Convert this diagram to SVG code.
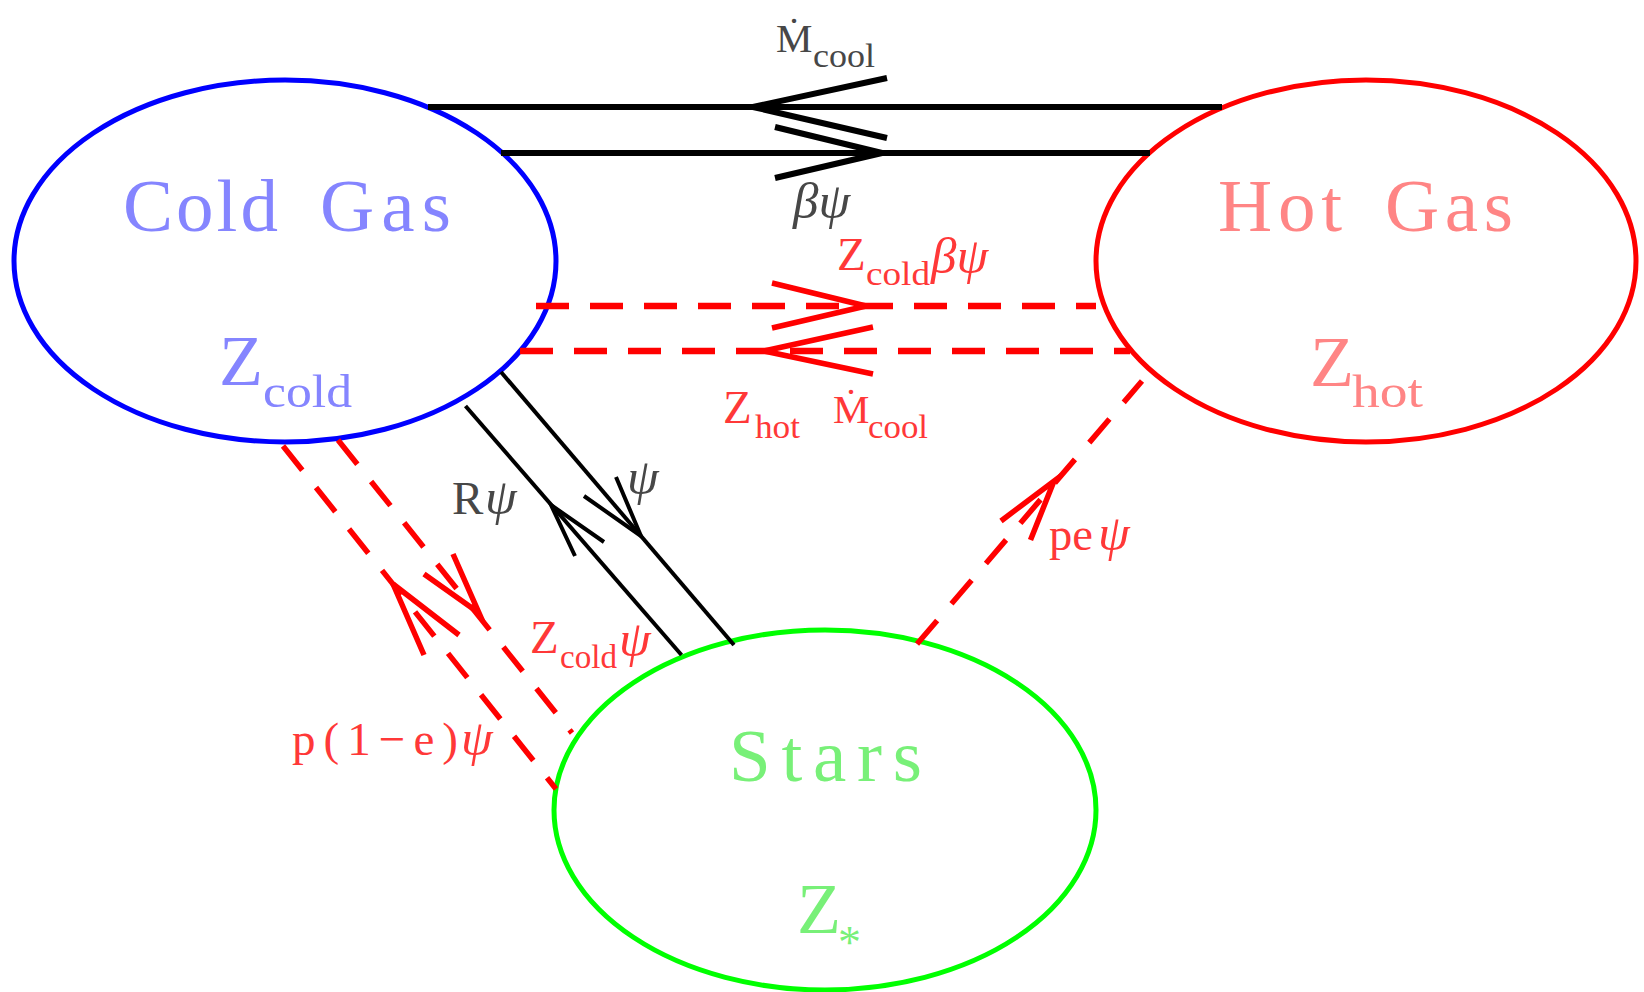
<svg xmlns="http://www.w3.org/2000/svg" width="1644" height="992" viewBox="0 0 1644 992">
<style>
  .ell{fill:none;stroke-width:5}
  .name{font-family:"Liberation Serif","DejaVu Serif",serif;font-size:75px}
  .zbig{font-family:"Liberation Serif","DejaVu Serif",serif;font-size:72px}
  .zsub{font-size:46px}
  .k{stroke:#000;fill:none;stroke-width:6}
  .kd{stroke:#000;fill:none;stroke-width:4}
  .rd{stroke:#f00;fill:none;stroke-width:6.5;stroke-dasharray:33 21}
  .rdd{stroke:#f00;fill:none;stroke-width:5.5;stroke-dasharray:31 22}
  .rh{stroke:#f00;fill:none;stroke-width:5.5}
  .lbl{font-family:"Liberation Serif","DejaVu Serif",serif;font-size:47px}
  .sub{font-size:33px}
  .gr{font-style:italic;font-size:51px}
  .lk{fill:#474747}
  .lr{fill:#ff3838}
  .tb{fill:#8585ff}
  .th{fill:#ff8585}
  .tg{fill:#78f078}
</style>
<rect width="1644" height="992" fill="#fff"/>

<g id="node-cold">
  <ellipse class="ell" cx="285" cy="261" rx="271" ry="181" stroke="#0000ff"/>
  <text class="name tb" y="231"><tspan x="123" textLength="155">Cold</tspan><tspan x="320" textLength="131">Gas</tspan></text>
  <text class="zbig tb"><tspan x="219" y="385">Z</tspan><tspan class="zsub" x="263" y="407" textLength="89" lengthAdjust="spacingAndGlyphs">cold</tspan></text>
</g>

<g id="node-hot">
  <ellipse class="ell" cx="1366" cy="261" rx="270" ry="181" stroke="#ff0000"/>
  <text class="name th" y="231"><tspan x="1218" textLength="124">Hot</tspan><tspan x="1385" textLength="128">Gas</tspan></text>
  <text class="zbig th"><tspan x="1310" y="386">Z</tspan><tspan class="zsub" x="1352" y="407" textLength="71" lengthAdjust="spacingAndGlyphs">hot</tspan></text>
</g>

<g id="node-stars">
  <ellipse class="ell" cx="825" cy="810" rx="271" ry="180" stroke="#00ff00"/>
  <text class="name tg" x="729" y="781" textLength="193">Stars</text>
  <text class="zbig tg"><tspan x="797" y="933">Z</tspan><tspan class="zsub" x="838" y="958">*</tspan></text>
</g>

<g id="connectors">
  <g id="edge-hot-cold-cool">
    <path class="k" d="M428,107 H1222"/>
    <path class="k" d="M887,78 L753,107 L887,138"/>
    <text class="lbl lk"><tspan x="776" y="52" font-size="41">Ṁ</tspan><tspan class="sub" x="813" y="67" textLength="62" lengthAdjust="spacingAndGlyphs">cool</tspan></text>
  </g>
  <g id="edge-cold-hot-beta">
    <path class="k" d="M501,153 H1150"/>
    <path class="k" d="M775,127 L882,153 L775,178"/>
    <text class="lbl lk gr" x="793" y="218">βψ</text>
  </g>
  <g id="edge-cold-hot-metals">
    <path class="rd" d="M536,306 H1096"/>
    <path class="rh" d="M772,283 L866,306 L772,328"/>
    <text class="lbl lr"><tspan x="837" y="270">Z</tspan><tspan class="sub" x="866" y="285" textLength="64" lengthAdjust="spacingAndGlyphs">cold</tspan><tspan class="gr" x="931" y="273">βψ</tspan></text>
  </g>
  <g id="edge-hot-cold-metals">
    <path class="rd" d="M520,351 H1130"/>
    <path class="rh" d="M873,327 L764,351 L873,374"/>
    <text class="lbl lr"><tspan x="723" y="423">Z</tspan><tspan class="sub" x="755" y="438" textLength="45" lengthAdjust="spacingAndGlyphs">hot</tspan><tspan x="833" y="423" font-size="41">Ṁ</tspan><tspan class="sub" x="868" y="438" textLength="60" lengthAdjust="spacingAndGlyphs">cool</tspan></text>
  </g>
  <g id="edge-stars-cold-return">
    <path class="kd" d="M465.5,406 L681.5,655"/>
    <path class="kd" d="M604,542 L551,505 L575,556"/>
    <text class="lbl lk"><tspan x="452" y="514">R</tspan><tspan class="gr" x="485" y="514">ψ</tspan></text>
  </g>
  <g id="edge-cold-stars-sf">
    <path class="kd" d="M501,372 L734,645"/>
    <path class="kd" d="M584,496 L641,536 L616,477"/>
    <text class="lbl lk gr" x="627" y="494">ψ</text>
  </g>
  <g id="edge-stars-cold-metals">
    <path class="rdd" d="M283,446 L556,789"/>
    <path class="rh" d="M459,635 L393,584 L424,655"/>
    <text class="lbl lr" font-size="50"><tspan x="292" y="755" textLength="166">p(1−e)</tspan><tspan class="gr" x="461" y="755">ψ</tspan></text>
  </g>
  <g id="edge-cold-stars-metals">
    <path class="rdd" d="M338,440 L572,733"/>
    <path class="rh" d="M424,574 L479,613 L453,554"/>
    <text class="lbl lr"><tspan x="530" y="653">Z</tspan><tspan class="sub" x="560" y="668" textLength="57" lengthAdjust="spacingAndGlyphs">cold</tspan><tspan class="gr" x="619" y="656">ψ</tspan></text>
  </g>
  <g id="edge-stars-hot">
    <path class="rdd" d="M917,644 L1142,381"/>
    <path class="rh" d="M1001,521 L1054,481 L1030.5,540"/>
    <text class="lbl lr" font-size="50"><tspan x="1049" y="550" textLength="44" lengthAdjust="spacingAndGlyphs">pe</tspan><tspan class="gr" x="1098" y="550" font-size="54">ψ</tspan></text>
  </g>
</g>
</svg>
